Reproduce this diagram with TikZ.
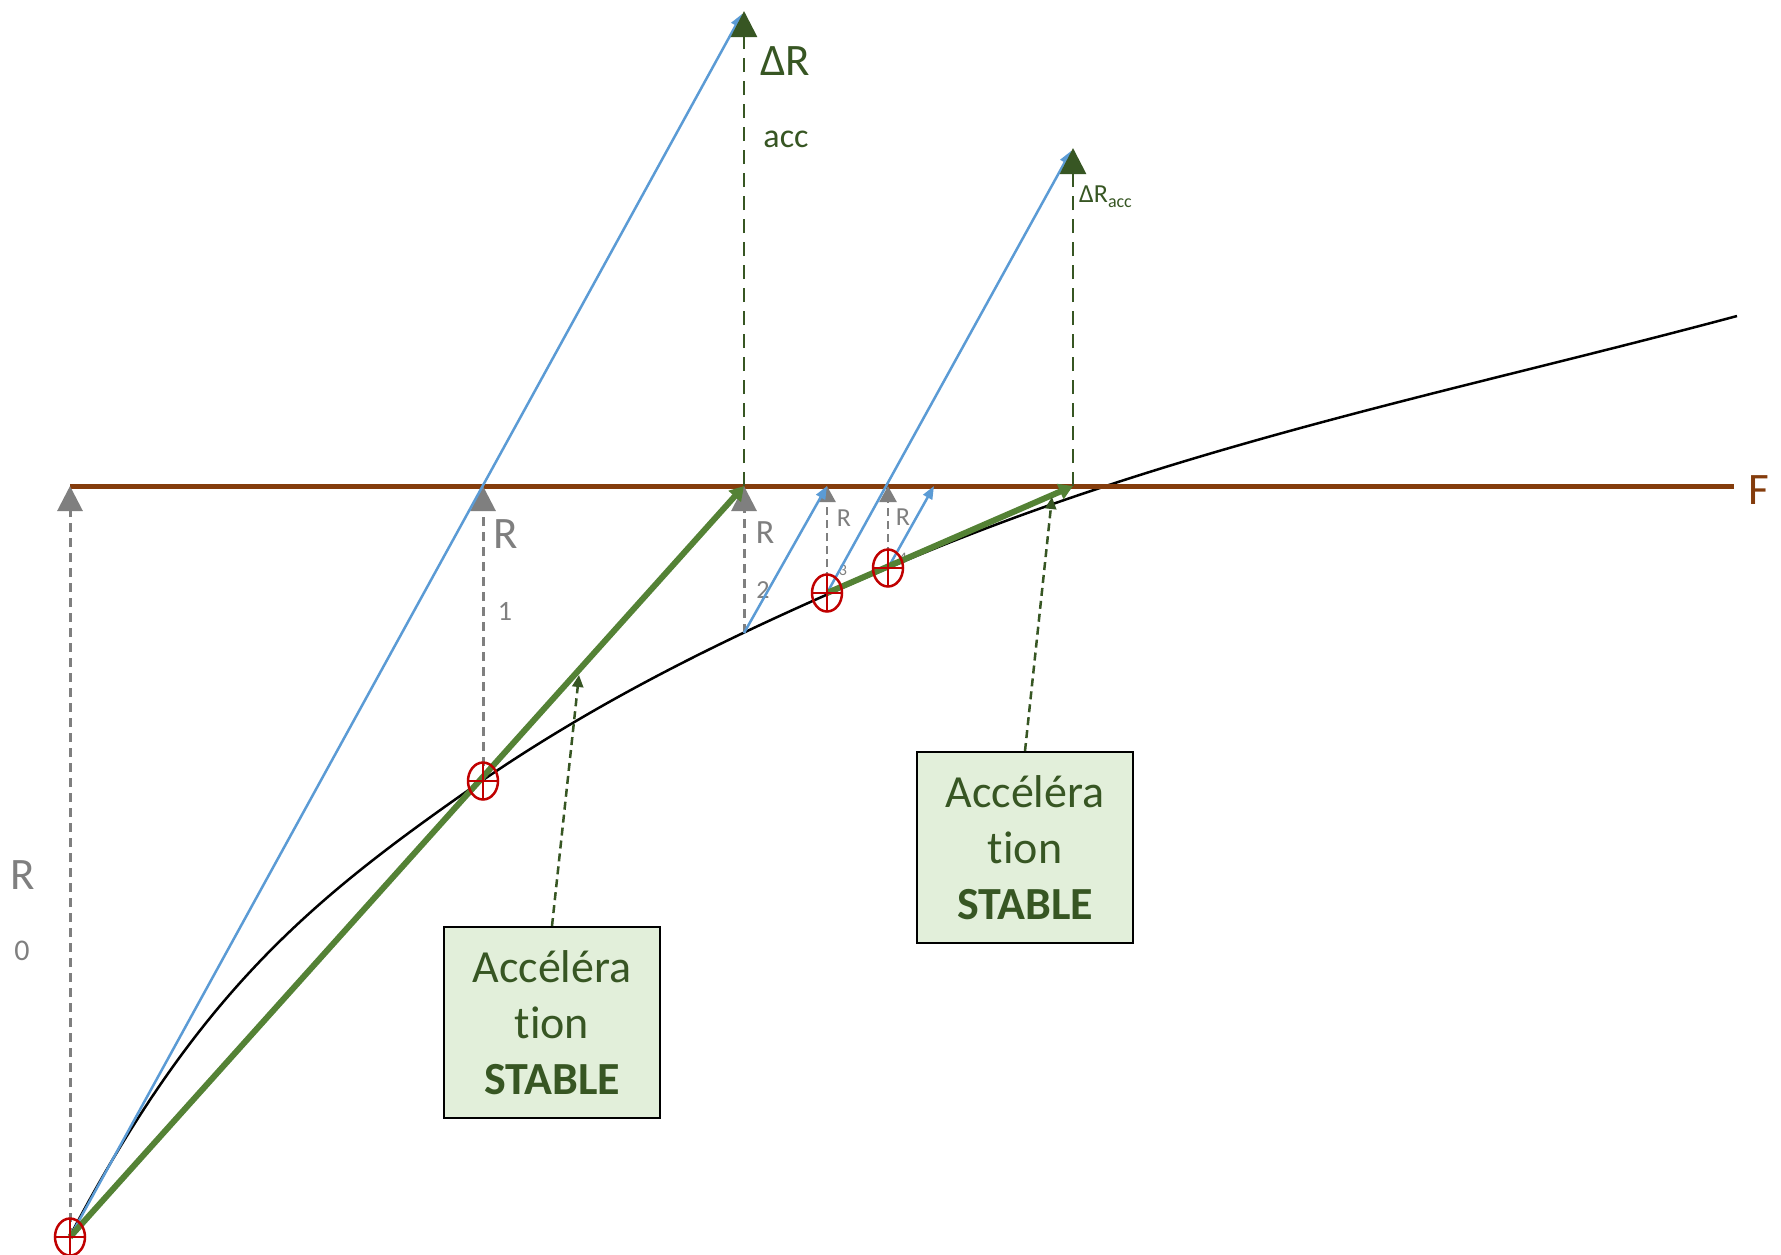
\documentclass[tikz,border=0pt]{standalone}
\usepackage{fontspec}
\setmainfont[Ligatures=NoCommon]{Carlito}
\usetikzlibrary{arrows.meta,shapes.geometric}
\definecolor{dgreen}{HTML}{375623}
\definecolor{mgreen}{HTML}{548235}
\definecolor{lblue}{HTML}{5B9BD5}
\definecolor{fbrown}{HTML}{843C0C}
\definecolor{rgray}{HTML}{7F7F7F}
\definecolor{pred}{HTML}{C00000}
\definecolor{boxfill}{HTML}{E2EFDA}
\begin{document}
\begin{tikzpicture}[x=1pt,y=-1pt,
  curveline/.style={black, line width=2.5},
  fline/.style={fbrown, line width=5},
  rarrow/.style={rgray, line width=3, dash pattern=on 9 off 6, -{Triangle[length=25,width=25]}},
  rarrowsm/.style={rgray, line width=2.5, dash pattern=on 8 off 5, -{Triangle[length=16,width=17]}},
  barrow/.style={lblue, line width=2.5, -{Triangle[length=13,width=10]}},
  darrow/.style={dgreen, line width=2.8, dash pattern=on 14 off 9, -{Triangle[length=26,width=26]}},
  garrow/.style={mgreen, line width=6, -{Triangle[length=14,width=16]}},
  boxarrow/.style={dgreen, line width=2.5, dash pattern=on 8 off 5, -{Triangle[length=12,width=11]}},
  ptmark/.style={ellipse, draw=pred, line width=2.5, minimum width=30, minimum height=37, inner sep=0,
    path picture={\draw[pred, line width=2.5] (path picture bounding box.north) -- (path picture bounding box.south) (path picture bounding box.west) -- (path picture bounding box.east);}},
  stablebox/.style={draw=black, line width=2, fill=boxfill, text=dgreen, minimum width=216, minimum height=191, align=center, font=\fontsize{46}{56}\selectfont, inner sep=0},
  glab/.style={text=rgray, inner sep=0},
  dlab/.style={text=dgreen, inner sep=0}
]
\useasboundingbox (0,0) rectangle (1781,1254);
\fill[white] (0,0) rectangle (1781,1254);

% coordinates
\coordinate (f0) at (70,486);
\coordinate (fend) at (1734,486);
\coordinate (t1) at (483,486);
\coordinate (t2) at (744,486);
\coordinate (t3) at (827,486);
\coordinate (t4) at (888,486);
\coordinate (tb4) at (934,486);
\coordinate (tg) at (1073,486);
\coordinate (c2) at (744,633);
\coordinate (top1) at (744,11);
\coordinate (top2) at (1073,148);
\coordinate (btop1) at (742,14);
\coordinate (btop2) at (1071,151);
\coordinate (a1) at (579,675);
\coordinate (a2) at (1052,497);

% curve
\draw[curveline] (70,1236) .. controls (200,989) and (313,898) .. (483,780)
  .. controls (618,688) and (753,626) .. (888,568)
  .. controls (1171,446) and (1454,392) .. (1737,316);

% F line
\draw[fline] (f0) -- (fend);
\node[text=fbrown, inner sep=0, font=\fontsize{45}{54}\selectfont] (flab) at (1759,490) {F};

% point markers (anchor nodes)
\node[ptmark, draw=none, path picture={}] (p0) at (70,1237) {};
\node[ptmark, draw=none, path picture={}] (p1) at (483,781) {};
\node[ptmark, draw=none, path picture={}] (p3) at (827,593) {};
\node[ptmark, draw=none, path picture={}] (p4) at (888,568) {};

% gray R arrows
\draw[rarrow] (p0.center) -- (f0);
\draw[rarrow] (p1.center) -- (t1);
\draw[rarrow] (c2) -- (t2);
\draw[rarrowsm] (p3.center) -- (t3);
\draw[rarrowsm] (p4.center) -- (t4);

% gray labels
\node[glab, font=\fontsize{45}{54}\selectfont] (r0) at (23,875) {R};
\node[glab, font=\fontsize{30}{36}\selectfont] (r0s) at (22,951) {0};
\node[glab, font=\fontsize{45}{54}\selectfont] (r1) at (506,534) {R};
\node[glab, font=\fontsize{28}{34}\selectfont] (r1s) at (505,611) {1};
\node[glab, font=\fontsize{34}{40}\selectfont] (r2) at (765,533) {R};
\node[glab, font=\fontsize{26}{32}\selectfont] (r2s) at (763,590) {2};
\node[glab, font=\fontsize{26}{32}\selectfont] (r3) at (844,518) {R};
\node[glab, font=\fontsize{16}{20}\selectfont] (r3s) at (843,570) {3};
\node[glab, font=\fontsize{26}{32}\selectfont] (r4) at (903,517) {R};
\node[glab, font=\fontsize{16}{20}\selectfont] (r4s) at (903,558) {4};

% blue lines
\draw[barrow] (p0.center) -- (btop1);
\draw[barrow] (c2) -- (t3);
\draw[barrow] (p3.center) -- (btop2);
\draw[barrow] (p4.center) -- (tb4);

% green dashed Delta R
\draw[darrow] (t2) -- (top1);
\draw[darrow] (tg) -- (top2);
\node[dlab, font=\fontsize{45}{54}\selectfont] (dr1) at (785,61) {ΔR};
\node[dlab, font=\fontsize{34}{40}\selectfont] (dr1s) at (786,139) {acc};
\node[dlab, anchor=base west, font=\fontsize{26}{30}\selectfont] (dr2) at (1079,202) {ΔR\raisebox{-5pt}{\fontsize{18}{20}\selectfont acc}};

% green thick lines
\draw[garrow] (p0.center) -- (t2);
\draw[garrow] (p3.center) -- (tg);

% red markers drawn on top
\node[ptmark] (m0) at (p0) {};
\node[ptmark] (m1) at (p1) {};
\node[ptmark] (m3) at (p3) {};
\node[ptmark] (m4) at (p4) {};

% boxes
\node[stablebox] (box1) at (552,1022.5) {Accéléra\\tion\\\textbf{STABLE}};
\node[stablebox] (box2) at (1025,847.5) {Accéléra\\tion\\\textbf{STABLE}};
\draw[boxarrow] (box1.north) -- (a1);
\draw[boxarrow] (box2.north) -- (a2);
\end{tikzpicture}
\end{document}
